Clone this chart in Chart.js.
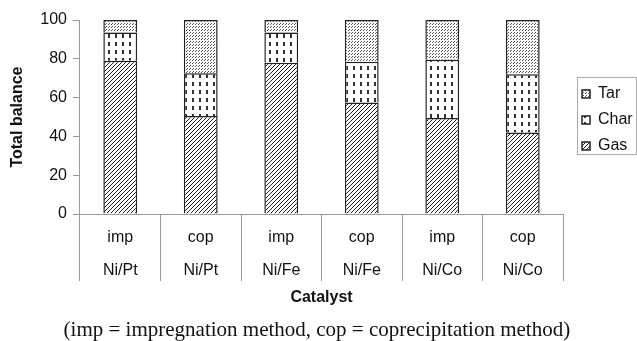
<!DOCTYPE html>
<html>
<head>
<meta charset="utf-8">
<script src="https://cdn.jsdelivr.net/npm/chart.js@4"></script>
<style>
html, body { margin: 0; padding: 0; background: #fff; }
#wrap { width: 637px; height: 341px; }
</style>
</head>
<body>
<div id="wrap"><canvas id="balancechart"></canvas></div>
<script>
// product balance of each catalyst
var categories = [["imp", "Ni/Pt"], ["cop", "Ni/Pt"], ["imp", "Ni/Fe"], ["cop", "Ni/Fe"], ["imp", "Ni/Co"], ["cop", "Ni/Co"]];
var gas = [79, 50.5, 78, 57.5, 49.5, 42];
var charValues = [14.5, 22, 15.5, 21, 30, 30];
var tar = [6.5, 27.5, 6.5, 21.5, 20.5, 28];
var yTicks = [0, 20, 40, 60, 80, 100];

var FONT = "'Liberation Sans', Arial, sans-serif";

function make_pattern(w, h, draw) {
    // small tile repeated as fill
    var c = document.createElement("canvas");
    c.width = w;
    c.height = h;
    var g = c.getContext("2d");
    g.fillStyle = "#fff";
    g.fillRect(0, 0, w, h);
    draw(g);
    return g.createPattern(c, "repeat");
}

var gasFill = make_pattern(4, 4, function (g) {
    g.strokeStyle = "#222";
    g.lineWidth = 1;
    g.beginPath();
    g.moveTo(-1, 5); g.lineTo(5, -1);
    g.moveTo(-1, 1); g.lineTo(1, -1);
    g.moveTo(3, 5); g.lineTo(5, 3);
    g.stroke();
});

var charFill = make_pattern(7, 8, function (g) {
    g.fillStyle = "#333";
    g.fillRect(3, 2, 2, 4);
});

var tarFill = make_pattern(3, 3, function (g) {
    g.fillStyle = "#555";
    g.fillRect(0, 0, 1, 1);
    g.fillRect(1, 2, 1, 1);
});

// legend sits a bit right of the plot and is centred on the plot height
var legendShift = {
    id: "legendShift",
    afterLayout: function (chart) {
        var lg = chart.legend;
        lg.left += 9;
        lg.right += 9;
        lg.top = chart.chartArea.top + 6;
        lg.bottom = chart.chartArea.bottom;
        lg.height = lg.bottom - lg.top;
    }
};

var legendBorder = {
    id: "legendBorder",
    afterDraw: function (chart) {
        var boxes = chart.legend.legendHitBoxes;
        if (!boxes || !boxes.length) return;
        var left = Math.min.apply(null, boxes.map(function (b) { return b.left; }));
        var top = Math.min.apply(null, boxes.map(function (b) { return b.top; }));
        var bottom = Math.max.apply(null, boxes.map(function (b) { return b.top + b.height; }));
        var x0 = Math.round(left - 5) + 0.5;
        var y0 = Math.round(top - 9) + 0.5;
        var ctx = chart.ctx;
        ctx.save();
        ctx.strokeStyle = "#aaa";
        ctx.lineWidth = 1;
        ctx.strokeRect(x0, y0, chart.width - 0.5 - x0, Math.round(bottom) - Math.round(top - 9));
        ctx.restore();
    }
};

function main() {
    new Chart(document.getElementById("balancechart"), {
        type: "bar",
        data: {
            labels: categories,
            datasets: [
                { label: "Gas", data: gas, backgroundColor: gasFill },
                { label: "Char", data: charValues, backgroundColor: charFill },
                { label: "Tar", data: tar, backgroundColor: tarFill }
            ]
        },
        options: {
            responsive: true,
            maintainAspectRatio: false,
            animation: false,
            datasets: {
                bar: {
                    borderColor: "#222",
                    borderWidth: 1.5,
                    categoryPercentage: 1,
                    barPercentage: 0.42
                }
            },
            layout: { padding: { top: 20, right: 3.3, left: 0, bottom: 0 } },
            scales: {
                x: {
                    stacked: true,
                    border: { color: "#999" },
                    grid: { offset: true, drawOnChartArea: false, drawTicks: true, tickLength: 67, color: "#999" },
                    ticks: {
                        font: { family: FONT, size: 16, lineHeight: 2.06 },
                        color: "#111",
                        padding: -60,
                        maxRotation: 0,
                        autoSkip: false
                    },
                    title: {
                        display: true,
                        text: "Catalyst",
                        color: "#111",
                        font: { family: FONT, size: 16, weight: "bold" },
                        padding: { top: 61.4, bottom: 12.4 }
                    }
                },
                y: {
                    stacked: true,
                    min: 0,
                    max: 100,
                    afterBuildTicks: function (axis) {
                        axis.ticks = yTicks.map(function (v) { return { value: v }; });
                    },
                    border: { color: "#999" },
                    grid: { drawOnChartArea: false, drawTicks: true, tickLength: 7, color: "#999" },
                    ticks: { font: { family: FONT, size: 16 }, color: "#111", padding: 6 },
                    title: {
                        display: true,
                        text: "Total balance",
                        color: "#111",
                        font: { family: FONT, size: 16, weight: "bold" },
                        padding: { top: 8.4, bottom: 6.7 }
                    }
                }
            },
            plugins: {
                legend: {
                    position: "right",
                    reverse: true,
                    labels: {
                        boxWidth: 8,
                        boxHeight: 8,
                        padding: 10,
                        color: "#111",
                        font: { family: FONT, size: 16 }
                    }
                },
                title: {
                    display: true,
                    position: "bottom",
                    text: "(imp = impregnation method, cop = coprecipitation method)",
                    color: "#111",
                    font: { family: "'Liberation Serif', 'Times New Roman', serif", size: 21, weight: "normal", lineHeight: 1 },
                    padding: { top: 0, bottom: 0 }
                },
                tooltip: { enabled: false }
            }
        },
        plugins: [legendShift, legendBorder]
    });
}

main();
</script>
</body>
</html>
